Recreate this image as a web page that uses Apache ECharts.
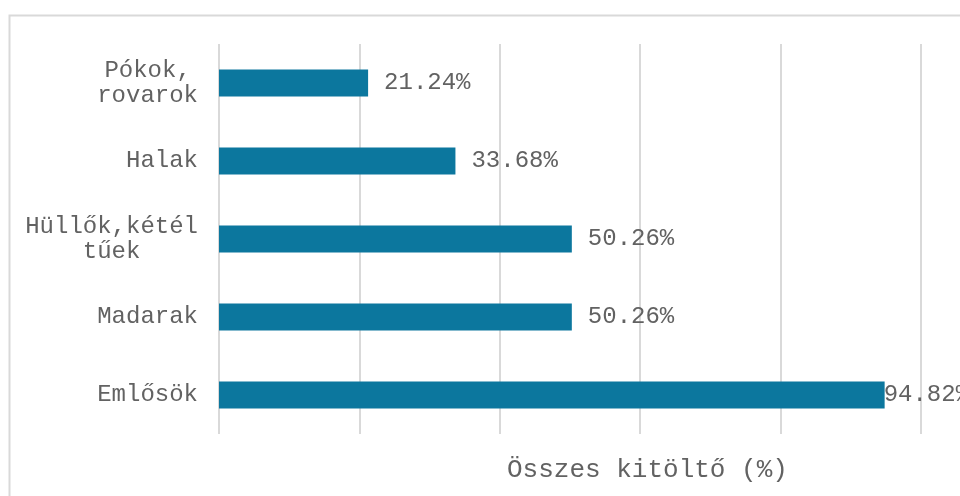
<!DOCTYPE html>
<html>
<head>
<meta charset="utf-8">
<script src="https://cdn.jsdelivr.net/npm/echarts@6/dist/echarts.min.js"></script>
<style>html,body{margin:0;padding:0;background:#fff}#c{width:960px;height:496px}</style>
</head>
<body>
<div id="c"></div>
<script>
const categories = ['Pókok,\nrovarok', 'Halak', 'Hüllők,kétél\ntűek', 'Madarak', 'Emlősök'];
const values = [21.24, 33.68, 50.26, 50.26, 94.82];
const axisTitle = 'Összes kitöltő (%)';

const FS = 24;
const FONT = 'Liberation Mono';
const TXT = '#626262';
const rich = {};
for (let n = 1; n <= 20; n++) {
  rich['w' + n] = { width: n * 0.6 * FS, align: 'center', fontSize: FS, fontFamily: FONT, color: TXT, lineHeight: 25 };
}

const chart = echarts.init(document.getElementById('c'));
chart.setOption({
  animation: false,
  title: {
    text: axisTitle, left: 502, top: 452,
    textStyle: { fontFamily: FONT, fontSize: 26, fontWeight: 'normal', color: TXT }
  },
  graphic: [{
    type: 'rect', left: 7, top: 13, silent: true,
    shape: { width: 1000, height: 600 },
    style: { fill: 'none', stroke: '#d9d9d9', lineWidth: 2 }
  }],
  grid: { left: 219, right: 39, top: 44, bottom: 62, containLabel: false },
  xAxis: {
    type: 'value', min: 0, max: 100, interval: 20,
    axisLabel: { show: false }, axisTick: { show: false }, axisLine: { show: false },
    splitLine: { show: true, lineStyle: { color: '#d9d9d9', width: 2 } }
  },
  yAxis: {
    type: 'category', data: categories, inverse: true,
    axisLine: { show: false }, axisTick: { show: false },
    axisLabel: {
      margin: 21, align: 'right',
      fontFamily: FONT, fontSize: FS, color: TXT, lineHeight: 25,
      formatter: function (v) {
        const lines = v.split('\n');
        const n = Math.max.apply(null, lines.map(l => l.length));
        return lines.map(l => '{w' + n + '|' + l + '}').join('\n');
      },
      rich: rich
    }
  },
  series: [{
    type: 'bar', barWidth: 27,
    itemStyle: { color: '#0C779E' },
    label: {
      show: true, position: 'right', distance: 16,
      fontFamily: FONT, fontSize: FS, color: TXT,
      formatter: p => p.value.toFixed(2) + '%'
    },
    data: values.map((v, i) => i === values.length - 1 ? { value: v, label: { distance: -1 } } : v)
  }]
});
</script>
</body>
</html>
